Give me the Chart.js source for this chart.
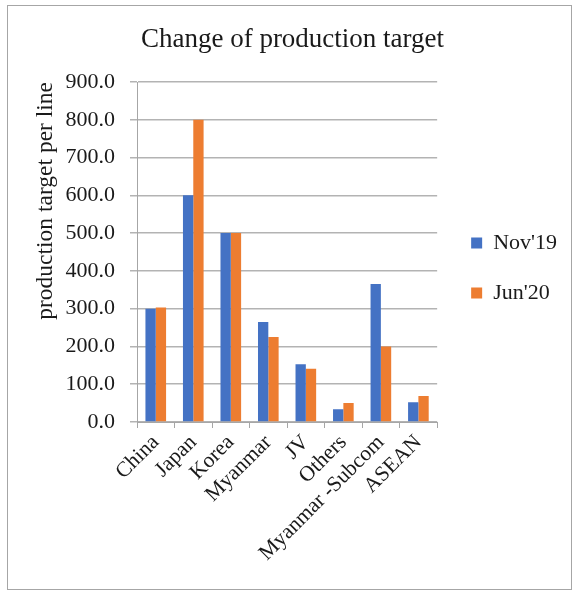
<!DOCTYPE html>
<html>
<head>
<meta charset="utf-8">
<script src="https://cdn.jsdelivr.net/npm/chart.js@4/dist/chart.umd.min.js"></script>
<style>
html,body{margin:0;padding:0;background:#fff;}
#wrap{position:absolute;left:0;top:0;width:573px;height:590px;}
#frame{position:absolute;left:7px;top:5px;width:563px;height:583px;border:1px solid #a6a6a6;box-sizing:content-box;pointer-events:none;}
canvas{position:absolute;left:0;top:0;}
</style>
</head>
<body>
<div id="wrap">
<canvas id="c" width="573" height="590"></canvas>
<div id="frame"></div>
</div>
<script>
const categories = ["China","Japan","Korea","Myanmar","JV","Others","Myanmar -Subcom","ASEAN"];
const nov19 = [300, 600, 500, 265, 153, 34, 365, 52];
const jun20 = [303, 800, 500, 225, 141, 50, 200, 69];
const seriesNames = ["Nov'19","Jun'20"];
const yTicks = [0,100,200,300,400,500,600,700,800,900];

const serif = "'Liberation Serif', 'DejaVu Serif', serif";
Chart.defaults.font.family = serif;
Chart.defaults.color = '#1a1a1a';

const nudge = {
  id: 'nudge',
  afterLayout(chart) {
    const lg = chart.legend;
    if (lg) { lg.top += 16; lg.bottom += 16; lg.left += 6; lg.right += 6; }
    const tb = chart.titleBlock;
    if (tb) { tb.left += 8; tb.right += 8; }
  }
};

new Chart(document.getElementById('c'), {
  type: 'bar',
  data: {
    labels: categories,
    datasets: [
      {label: seriesNames[0], data: nov19, backgroundColor: '#4472C4', barPercentage: 1, categoryPercentage: 0.55},
      {label: seriesNames[1], data: jun20, backgroundColor: '#ED7D31', barPercentage: 1, categoryPercentage: 0.55}
    ]
  },
  options: {
    responsive: false,
    animation: false,
    devicePixelRatio: 1,
    layout: {padding: {left: 8, right: 12, top: 8, bottom: 8}},
    plugins: {
      title: {display: true, text: 'Change of production target', font: {size: 27, weight: 'normal', family: serif}, color: '#1a1a1a', padding: {top: 16, bottom: 25.6}},
      legend: {
        position: 'right',
        fullSize: false,
        labels: {boxWidth: 11, boxHeight: 11, padding: 28, font: {size: 22, family: serif}, color: '#1a1a1a'}
      },
      tooltip: {enabled: false}
    },
    scales: {
      x: {
        afterFit: (s) => { s.height = 160; },
        grid: {display: true, drawOnChartArea: false, color: '#a6a6a6', tickLength: 6, offset: true},
        border: {display: true, color: '#a6a6a6'},
        ticks: {minRotation: 45, maxRotation: 45, font: {size: 21.5, family: serif}, color: '#1a1a1a', padding: 2, autoSkip: false}
      },
      y: {
        min: 0, max: 900,
        afterFit: (s) => { s.width = 129; },
        afterBuildTicks: (axis) => { axis.ticks = yTicks.map(v => ({value: v})); },
        grid: {color: '#b3b3b3', lineWidth: 1.5, tickLength: 7},
        border: {display: true, color: '#a6a6a6'},
        ticks: {font: {size: 22, family: serif}, color: '#1a1a1a', padding: 15, callback: v => Number(v).toFixed(1)},
        title: {display: true, text: 'production target per line', align: 'end', font: {size: 23.5, family: serif}, color: '#1a1a1a', padding: {top: 24, bottom: 0}}
      }
    }
  },
  plugins: [nudge]
});
</script>
</body>
</html>
